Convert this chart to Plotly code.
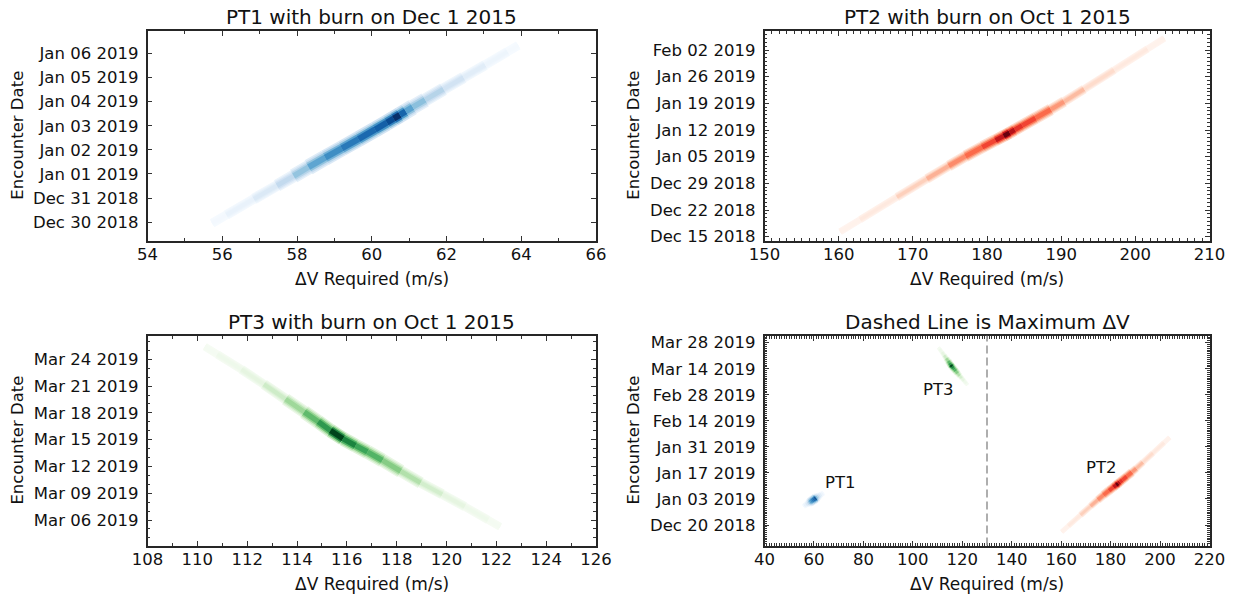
import plotly.graph_objects as go
import plotly.colors as pc
import pandas as pd

# ---------------- data ----------------
# PT1: centre line of the density ridge (delta-V, encounter date) and relative density
pt1_dv = [55.73, 56.49, 57.20, 57.73, 58.09, 58.53, 58.98, 59.42, 59.87, 60.31,
          60.50, 60.67, 60.84, 60.98, 61.21, 61.65, 62.19, 62.72, 63.35, 63.92]
pt1_date = ["2018-12-29 23:00", "2018-12-30 15:30", "2018-12-31 06:50", "2018-12-31 18:00",
            "2019-01-01 02:00", "2019-01-01 11:30", "2019-01-01 21:00", "2019-01-02 06:00",
            "2019-01-02 15:30", "2019-01-03 01:00", "2019-01-03 05:00", "2019-01-03 09:00",
            "2019-01-03 12:40", "2019-01-03 16:00", "2019-01-03 21:00", "2019-01-04 06:30",
            "2019-01-04 18:30", "2019-01-05 05:30", "2019-01-05 19:30", "2019-01-06 08:00"]
pt1_density = [0.02, 0.07, 0.14, 0.26, 0.40, 0.54, 0.64, 0.72, 0.78, 0.82,
               0.90, 1.00, 0.80, 0.55, 0.42, 0.30, 0.19, 0.11, 0.05, 0.015]

# PT2
pt2_dv = [160.2, 165.6, 170.1, 173.7, 176.0, 178.2, 180.5, 181.8, 182.7, 183.4,
          184.1, 185.4, 187.7, 189.5, 191.3, 194.9, 199.4, 203.9]
pt2_date = ["2018-12-16 07:00", "2018-12-22 17:00", "2018-12-28 02:00", "2019-01-01 06:00",
            "2019-01-03 22:00", "2019-01-06 08:00", "2019-01-08 16:00", "2019-01-10 00:00",
            "2019-01-10 22:00", "2019-01-11 17:00", "2019-01-12 11:00", "2019-01-13 21:00",
            "2019-01-16 10:00", "2019-01-18 09:00", "2019-01-20 13:00", "2019-01-24 23:00",
            "2019-01-30 12:00", "2019-02-05 02:00"]
pt2_density = [0.02, 0.07, 0.18, 0.28, 0.40, 0.50, 0.60, 0.78, 1.00, 0.82,
               0.66, 0.60, 0.50, 0.36, 0.25, 0.14, 0.07, 0.02]

# PT3
pt3_dv = [110.3, 111.3, 112.24, 113.1, 113.98, 114.6, 115.1, 115.59, 116.1, 116.6,
          117.06, 117.8, 118.53, 119.4, 120.27, 121.2, 122.15]
pt3_date = ["2019-03-25 10:00", "2019-03-23 17:00", "2019-03-22 01:00", "2019-03-20 09:00",
            "2019-03-18 17:00", "2019-03-17 12:00", "2019-03-16 13:00", "2019-03-15 12:00",
            "2019-03-14 17:00", "2019-03-13 23:00", "2019-03-13 07:00", "2019-03-12 02:00",
            "2019-03-10 20:00", "2019-03-09 12:00", "2019-03-08 06:00", "2019-03-06 18:00",
            "2019-03-05 06:00"]
pt3_density = [0.02, 0.06, 0.12, 0.22, 0.38, 0.55, 0.70, 1.00, 0.78, 0.65,
               0.58, 0.45, 0.32, 0.20, 0.12, 0.06, 0.02]

max_dv = 130  # dashed line: maximum delta-V

titles = ["PT1 with burn on Dec 1 2015", "PT2 with burn on Oct 1 2015",
          "PT3 with burn on Oct 1 2015", "Dashed Line is Maximum \u0394V"]
x_label = "\u0394V Required (m/s)"
y_label = "Encounter Date"

# ---------------- figure ----------------
W, H = 1237, 598
FONT = "DejaVu Sans"

fig = go.Figure()

# subplot frames in screen pixels: (left, right, top, bottom)
boxes = {
    1: (147.5, 596.0, 31.0, 240.5),
    2: (764.5, 1209.5, 31.0, 240.5),
    3: (147.5, 596.0, 335.7, 545.5),
    4: (764.5, 1209.5, 335.7, 545.5),
}


def px(x):
    return x / W


def py(y):
    return 1 - y / H


def add_band(dv, dates, dens, scale, width, n):
    xa = "x" if n == 1 else f"x{n}"
    ya = "y" if n == 1 else f"y{n}"
    t = pd.to_datetime(pd.Series(dates))
    k = len(dv)
    pieces = []
    for i in range(k):
        xs, ys = [], []
        if i > 0:
            xs.append((dv[i - 1] + dv[i]) / 2)
            ys.append(t[i - 1] + (t[i] - t[i - 1]) / 2)
        xs.append(dv[i])
        ys.append(t[i])
        if i < k - 1:
            xs.append((dv[i] + dv[i + 1]) / 2)
            ys.append(t[i] + (t[i + 1] - t[i]) / 2)
        pieces.append((xs, ys, dens[i]))
    for wf, f in [(1.0, 0.22), (0.8, 0.45), (0.6, 0.75), (0.38, 1.0)]:
        for xs, ys, v in pieces:
            col = pc.sample_colorscale(scale, [min(1.0, v * f)])[0]
            taper = 0.55 + 0.45 * min(1.0, v / 0.5)
            fig.add_trace(go.Scatter(
                x=xs, y=[y.strftime("%Y-%m-%d %H:%M:%S") for y in ys],
                mode="lines", line=dict(color=col, width=width * wf * taper),
                xaxis=xa, yaxis=ya, hoverinfo="skip", showlegend=False))


Blues = pc.sequential.Blues
Reds = pc.sequential.Reds
Greens = pc.sequential.Greens

add_band(pt1_dv, pt1_date, pt1_density, Blues, 16, 1)
add_band(pt2_dv, pt2_date, pt2_density, Reds, 12, 2)
add_band(pt3_dv, pt3_date, pt3_density, Greens, 14, 3)
add_band(pt1_dv, pt1_date, pt1_density, Blues, 9.5, 4)
add_band(pt2_dv, pt2_date, pt2_density, Reds, 9, 4)
add_band(pt3_dv, pt3_date, pt3_density, Greens, 7, 4)

axis_common = dict(showline=True, linecolor="#262626", linewidth=1.6, mirror="ticks",
                   ticks="inside", ticklen=5, tickwidth=1, tickcolor="#333",
                   showgrid=False, zeroline=False, automargin=False,
                   tickfont=dict(family=FONT, size=16.5, color="#111"))

DAY = 86400000

x_specs = {
    1: dict(range=[54, 66], dtick=2, tick0=54, minor=1),
    2: dict(range=[150, 210], dtick=10, tick0=150, minor=1),
    3: dict(range=[108, 126], dtick=2, tick0=108, minor=1),
    4: dict(range=[40, 220], dtick=20, tick0=40, minor=1),
}
y_specs = {
    1: dict(range=["2018-12-29 05:50", "2019-01-06 22:15"], tick0="2018-12-30", dtick=DAY, minor=None),
    2: dict(range=["2018-12-14 00:00", "2019-02-07 00:00"], tick0="2018-12-15", dtick=7 * DAY, minor=DAY),
    3: dict(range=["2019-03-03 03:30", "2019-03-26 15:30"], tick0="2019-03-06", dtick=3 * DAY, minor=DAY),
    4: dict(range=["2018-12-09 00:00", "2019-03-31 18:00"], tick0="2018-12-20", dtick=14 * DAY, minor=DAY),
}

layout = {}
for n in range(1, 5):
    b = boxes[n]
    xs = x_specs[n]
    ys = y_specs[n]
    xk = "xaxis" if n == 1 else f"xaxis{n}"
    yk = "yaxis" if n == 1 else f"yaxis{n}"
    xa = dict(axis_common, domain=[px(b[0]), px(b[1])], anchor="y" if n == 1 else f"y{n}",
              range=xs["range"], tickmode="linear", tick0=xs["tick0"], dtick=xs["dtick"],
              minor=dict(ticks="inside", ticklen=3, tickcolor="#333", dtick=xs["minor"],
                         tick0=xs["tick0"], showgrid=False),
              ticklabelstandoff=-2)
    ya = dict(axis_common, domain=[py(b[3]), py(b[2])], anchor="x" if n == 1 else f"x{n}",
              type="date", range=ys["range"], tickmode="linear", tick0=ys["tick0"],
              dtick=ys["dtick"], tickformat="%b %d %Y", ticklabelstandoff=4)
    if ys["minor"]:
        ya["minor"] = dict(ticks="inside", ticklen=3, tickcolor="#333",
                           dtick=ys["minor"], tick0=ys["tick0"], showgrid=False)
    layout[xk] = xa
    layout[yk] = ya

fig.update_layout(**layout)

annotations = []
for n in range(1, 5):
    b = boxes[n]
    cx = px((b[0] + b[1]) / 2)
    cy = py((b[2] + b[3]) / 2)
    annotations.append(dict(text=titles[n - 1], x=cx, y=py(b[2] - 14),
                            xref="paper", yref="paper", showarrow=False,
                            xanchor="center", yanchor="middle",
                            font=dict(family=FONT, size=20, color="#111")))
    annotations.append(dict(text=x_label, x=cx, y=py(b[3] + 38),
                            xref="paper", yref="paper", showarrow=False,
                            xanchor="center", yanchor="middle",
                            font=dict(family=FONT, size=17, color="#111")))
    yx = 18 if b[0] < 400 else 634
    annotations.append(dict(text=y_label, x=px(yx), y=cy, textangle=-90,
                            xref="paper", yref="paper", showarrow=False,
                            xanchor="center", yanchor="middle",
                            font=dict(family=FONT, size=16.5, color="#111")))

# labels inside the combined panel
pt_labels = ["PT1", "PT3", "PT2"]
pt_label_dv = [70.7, 110.3, 176.4]
pt_label_date = ["2019-01-11 17:00", "2019-03-02 14:00", "2019-01-20 00:00"]
for txt, xv, yv in zip(pt_labels, pt_label_dv, pt_label_date):
    annotations.append(dict(text=txt, x=xv, y=yv, xref="x4", yref="y4", showarrow=False,
                            xanchor="center", yanchor="middle",
                            font=dict(family=FONT, size=16.5, color="#111")))

fig.update_layout(
    annotations=annotations,
    shapes=[dict(type="line", xref="x4", yref="y4 domain", x0=max_dv, x1=max_dv, y0=0, y1=1,
                 line=dict(color="#9a9a9a", width=1.6, dash="8px,4px"))],
    width=W, height=H, margin=dict(l=0, r=0, t=0, b=0, autoexpand=False),
    paper_bgcolor="white", plot_bgcolor="white", showlegend=False,
)

fig.write_html("out.html", config={"displayModeBar": False},
               post_script="document.body.style.margin='0px';")
